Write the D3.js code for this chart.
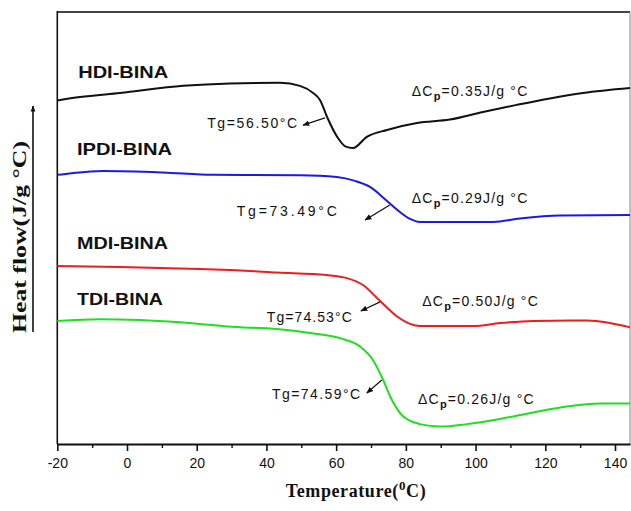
<!DOCTYPE html>
<html>
<head>
<meta charset="utf-8">
<script src="https://cdn.jsdelivr.net/npm/d3@7"></script>
<style>
  body { margin: 0; background: #fff; }
  svg { display: block; }
</style>
</head>
<body>
<svg id="chart" width="631" height="511"></svg>
<script>
// DSC traces: temperature (°C) vs heat flow (arbitrary units, curves offset)
const hdiTemp  = [-20, -13.5, -2.0, 16.1, 29.5, 43.9, 49.6, 53.4, 55.4, 57.4, 60.3, 62.6, 64.8, 68.8, 74.6, 83.2, 92.6, 102.1, 111.8, 121.3, 130.8, 144.3];
const hdiFlow  = [79.5, 80.3, 81.25, 82.9, 83.45, 83.6, 82.9, 81.25, 79.6, 75.7, 71.1, 68.9, 68.5, 71.1, 72.7, 74.3, 75.1, 76.85, 78.5, 80.0, 81.25, 82.4];

const ipdiTemp = [-20, -15.8, -6.9, 10.3, 24.7, 49.6, 60.2, 65.4, 69.7, 74.6, 78.3, 81.2, 84.0, 105.0, 112.7, 124.2, 144.3];
const ipdiFlow = [62.3, 62.7, 63.2, 62.85, 62.3, 62.2, 61.8, 60.9, 59.5, 56.25, 53.7, 52.1, 51.4, 51.4, 52.2, 52.9, 53.0];

const mdiTemp  = [-20, -2.0, 20.9, 31.5, 43.0, 57.3, 63.1, 67.7, 72.6, 77.5, 81.2, 84.0, 99.3, 107.0, 116.5, 132.0, 138.5, 144.3];
const mdiFlow  = [41.2, 41.0, 40.5, 40.2, 39.7, 39.1, 38.4, 36.8, 33.1, 29.5, 27.8, 27.3, 27.3, 28.0, 28.5, 28.6, 28.0, 27.0];

const tdiTemp  = [-20, -7.7, 3.7, 20.9, 28.7, 43.0, 52.5, 61.1, 66.8, 70.6, 73.1, 76.0, 79.2, 84.0, 89.8, 97.5, 107.0, 116.5, 126.1, 135.7, 144.3];
const tdiFlow  = [28.5, 28.9, 28.7, 27.8, 27.2, 26.6, 25.7, 24.5, 22.6, 19.4, 15.5, 10.2, 6.4, 4.6, 4.05, 4.6, 5.8, 7.3, 8.7, 9.4, 9.4];

const seriesNames  = ["HDI-BINA", "IPDI-BINA", "MDI-BINA", "TDI-BINA"];
const seriesColors = ["#111111", "#1a1ae6", "#ee1c1c", "#1ee01e"];
const tgValues     = ["56.50", "73.49", "74.53", "74.59"];
const dcpValues    = ["0.35", "0.29", "0.50", "0.26"];

const majorTicks = [-20, 0, 20, 40, 60, 80, 100, 120, 140];
const minorTicks = [-10, 10, 30, 50, 70, 90, 110, 130];

// Label placement in data units: [temperature, heat flow]
const namePos  = [[-14.0, 84.7], [-14.35, 66.9], [-14.35, 45.1], [-14.35, 32.2]];
const nameLen  = [90, 95, 91, 86];
const tgPos    = [[23.0, 73.1], [31.5, 52.8], [40.1, 28.2], [41.6, 10.4]];
const tgLen    = [90, 100, 85, 88];
const arrowFrom = [[56.8, 75.5], [75.4, 55.3], [72.6, 32.9], [73.1, 14.8]];
const arrowTo   = [[50.5, 73.8], [68.3, 51.85], [67.1, 30.8], [68.8, 11.8]];
const dcpPos   = [[81.7, 80.6], [81.7, 55.8], [84.7, 31.9], [83.5, 9.3]];

const svg = d3.select("#chart");
const plotLeft = 57.3, plotRight = 630, plotTop = 12, plotBottom = 444;

const x = d3.scaleLinear().domain([-20, 144.3]).range([plotLeft, plotRight]);
const y = d3.scaleLinear().domain([0, 100]).range([plotBottom, plotTop]);

// marker for the small annotation arrows
const defs = svg.append("defs");
defs.append("marker")
  .attr("id", "head").attr("viewBox", "0 0 10 10")
  .attr("refX", 9).attr("refY", 5)
  .attr("markerWidth", 7).attr("markerHeight", 7)
  .attr("markerUnits", "userSpaceOnUse")
  .attr("orient", "auto")
  .append("path").attr("d", "M0,1 L10,5 L0,9 Z").attr("fill", "#111");

// frame
svg.append("line").attr("x1", plotLeft).attr("x2", plotRight).attr("y1", plotTop).attr("y2", plotTop)
  .attr("stroke", "#444").attr("stroke-width", 2);
svg.append("line").attr("x1", plotRight).attr("x2", plotRight).attr("y1", plotTop).attr("y2", plotBottom)
  .attr("stroke", "#9a9a9a").attr("stroke-width", 1.2);
svg.append("line").attr("x1", plotLeft).attr("x2", plotLeft).attr("y1", plotTop - 1).attr("y2", plotBottom)
  .attr("stroke", "#111").attr("stroke-width", 1.6);

// bottom axis: major ticks with labels, minor ticks without
const xAxis = svg.append("g").attr("transform", `translate(0,${plotBottom})`)
  .call(d3.axisBottom(x).tickValues(majorTicks).tickSize(7).tickSizeOuter(0)
        .tickPadding(7).tickFormat(d => String(d)));
xAxis.select(".domain").attr("stroke", "#111").attr("stroke-width", 2);
xAxis.selectAll(".tick line").attr("stroke", "#111").attr("stroke-width", 1.6);
xAxis.selectAll(".tick text")
  .attr("font-family", "'Liberation Sans', Arial, sans-serif")
  .attr("font-size", 14).attr("fill", "#111");

const xMinor = svg.append("g").attr("transform", `translate(0,${plotBottom})`)
  .call(d3.axisBottom(x).tickValues(minorTicks).tickSize(4).tickSizeOuter(0).tickFormat(""));
xMinor.select(".domain").remove();
xMinor.selectAll(".tick line").attr("stroke", "#111").attr("stroke-width", 1.4);

// axis titles
const xTitle = svg.append("text")
  .attr("x", 356).attr("y", 497).attr("text-anchor", "middle")
  .attr("font-family", "'Liberation Serif', 'Times New Roman', serif")
  .attr("font-weight", "bold").attr("font-size", 18).attr("letter-spacing", 0.6)
  .attr("fill", "#111");
xTitle.append("tspan").text("Temperature(");
xTitle.append("tspan").attr("dy", -7).attr("font-size", 13).text("0");
xTitle.append("tspan").attr("dy", 7).text("C)");

svg.append("text")
  .attr("transform", "translate(26,237) rotate(-90)")
  .attr("text-anchor", "middle")
  .attr("font-family", "'Liberation Serif', 'Times New Roman', serif")
  .attr("font-weight", "bold").attr("font-size", 19)
  .attr("textLength", 192).attr("lengthAdjust", "spacingAndGlyphs")
  .attr("fill", "#111")
  .text("Heat flow(J/g °C)");

// upward arrow beside the heat-flow title
defs.append("marker")
  .attr("id", "upHead").attr("viewBox", "0 0 10 10")
  .attr("refX", 5).attr("refY", 1)
  .attr("markerWidth", 6).attr("markerHeight", 9)
  .attr("markerUnits", "userSpaceOnUse").attr("orient", "0")
  .append("path").attr("d", "M1,10 L5,0 L9,10 Z").attr("fill", "#111");
svg.append("line")
  .attr("x1", 33).attr("x2", 33).attr("y1", 332).attr("y2", 106)
  .attr("stroke", "#111").attr("stroke-width", 1.6)
  .attr("marker-end", "url(#upHead)");

// curves
const traces = [
  { t: hdiTemp,  f: hdiFlow },
  { t: ipdiTemp, f: ipdiFlow },
  { t: mdiTemp,  f: mdiFlow },
  { t: tdiTemp,  f: tdiFlow }
];
const line = d3.line().x(d => x(d[0])).y(d => y(d[1])).curve(d3.curveMonotoneX);
traces.forEach((tr, i) => {
  const pts = tr.t.map((t, j) => [t, tr.f[j]]);
  svg.append("path").datum(pts)
    .attr("d", line).attr("fill", "none")
    .attr("stroke", seriesColors[i]).attr("stroke-width", 2)
    .attr("stroke-linejoin", "round");
});

// sample names
seriesNames.forEach((name, i) => {
  svg.append("text")
    .attr("x", x(namePos[i][0])).attr("y", y(namePos[i][1]))
    .attr("font-family", "'Liberation Sans', Arial, sans-serif")
    .attr("font-weight", "bold").attr("font-size", 17)
    .attr("textLength", nameLen[i]).attr("lengthAdjust", "spacingAndGlyphs")
    .attr("fill", "#111").text(name);
});

// Tg labels with arrows
const annoFont = "'Liberation Sans', Arial, sans-serif";
tgValues.forEach((tg, i) => {
  svg.append("text")
    .attr("x", x(tgPos[i][0])).attr("y", y(tgPos[i][1]))
    .attr("font-family", annoFont).attr("font-size", 14)
    .attr("textLength", tgLen[i]).attr("lengthAdjust", "spacing")
    .attr("fill", "#111").text(`Tg=${tg}°C`);
  svg.append("line")
    .attr("x1", x(arrowFrom[i][0])).attr("y1", y(arrowFrom[i][1]))
    .attr("x2", x(arrowTo[i][0])).attr("y2", y(arrowTo[i][1]))
    .attr("stroke", "#111").attr("stroke-width", 1.2)
    .attr("marker-end", "url(#head)");
});

// heat capacity step labels
dcpValues.forEach((v, i) => {
  const t = svg.append("text")
    .attr("x", x(dcpPos[i][0])).attr("y", y(dcpPos[i][1]))
    .attr("font-family", annoFont).attr("font-size", 14)
    .attr("letter-spacing", 1.2).attr("fill", "#111");
  t.append("tspan").text("ΔC");
  t.append("tspan").attr("dy", 4).attr("font-size", 11).attr("font-weight", "bold").text("p");
  t.append("tspan").attr("dy", -4).text(`=${v}J/g °C`);
});
</script>
</body>
</html>
